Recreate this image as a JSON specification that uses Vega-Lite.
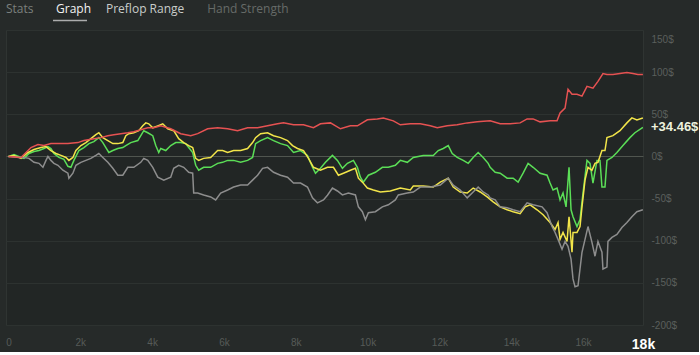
{
  "$schema": "https://vega.github.io/schema/vega-lite/v6.json",
  "background": "#262a29",
  "padding": {"left": 5, "top": 0, "right": 0, "bottom": 0},
  "spacing": 12,
  "bounds": "flush",
  "config": {"view": {"stroke": null}, "font": "Liberation Sans"},
  "resolve": {"scale": {"x": "independent", "y": "independent", "color": "independent"}},
  "vconcat": [
    {
      "width": 637,
      "height": 18,
      "data": {"values": [
        {"tab": "Stats"},
        {"tab": "Graph"},
        {"tab": "Preflop Range"},
        {"tab": "Hand Strength"}
      ]},
      "transform": [
        {"calculate": "length(datum.tab) * 6.4 + 18", "as": "w"},
        {"window": [{"op": "sum", "field": "w", "as": "cum"}], "frame": [null, 0]},
        {"calculate": "datum.cum - datum.w", "as": "pos"}
      ],
      "layer": [
        {
          "mark": {"type": "text", "align": "left", "baseline": "middle", "font": "Open Sans", "fontSize": 12},
          "encoding": {
            "x": {"field": "pos", "type": "quantitative", "scale": {"domain": [0, 637], "nice": false, "zero": true}, "axis": null},
            "text": {"field": "tab"},
            "color": {"field": "tab", "type": "nominal", "scale": {"domain": ["Stats", "Graph", "Preflop Range", "Hand Strength"], "range": ["#7b807d", "#f2f2f2", "#c9cdca", "#666b68"]}, "legend": null},
            "fontWeight": {"condition": {"test": "datum.tab === 'Graph'", "value": 600}, "value": 400}
          }
        },
        {
          "transform": [{"filter": "datum.tab === 'Graph'"}],
          "mark": {"type": "tick", "orient": "horizontal", "size": 34, "thickness": 1.5, "xOffset": 14, "yOffset": 11.5, "color": "#e6e6e6"},
          "encoding": {
            "x": {"field": "pos", "type": "quantitative"}
          }
        }
      ]
    },
    {
      "width": 637,
      "height": 295,
      "view": {"fill": "#222625", "stroke": "#2f3432"},
      "layer": [
        {
          "data": {"values": [
            {"s":"g","h":0,"v":0},{"s":"g","h":153,"v":2.3},{"s":"g","h":348,"v":-1.2},{"s":"g","h":431,"v":-2.3},{"s":"g","h":570,"v":3.5},{"s":"g","h":709,"v":5.9},{"s":"g","h":848,"v":7.0},{"s":"g","h":987,"v":9.4},{"s":"g","h":1098,"v":11.7},{"s":"g","h":1181,"v":9.4},{"s":"g","h":1265,"v":3.5},{"s":"g","h":1404,"v":-1.2},{"s":"g","h":1543,"v":-3.5},{"s":"g","h":1654,"v":-11.7},{"s":"g","h":1738,"v":-12.9},{"s":"g","h":1821,"v":-4.7},{"s":"g","h":1960,"v":7.0},{"s":"g","h":2099,"v":10.5},{"s":"g","h":2238,"v":15.2},{"s":"g","h":2377,"v":17.6},{"s":"g","h":2516,"v":22.3},{"s":"g","h":2627,"v":16.4},{"s":"g","h":2711,"v":10.5},{"s":"g","h":2794,"v":4.7},{"s":"g","h":2905,"v":7.0},{"s":"g","h":3044,"v":9.4},{"s":"g","h":3183,"v":10.5},{"s":"g","h":3267,"v":12.9},{"s":"g","h":3406,"v":16.4},{"s":"g","h":3600,"v":18.8},{"s":"g","h":3684,"v":24.6},{"s":"g","h":3767,"v":30.5},{"s":"g","h":3878,"v":28.1},{"s":"g","h":4017,"v":24.6},{"s":"g","h":4101,"v":12.9},{"s":"g","h":4184,"v":4.7},{"s":"g","h":4240,"v":9.4},{"s":"g","h":4379,"v":7.0},{"s":"g","h":4518,"v":12.9},{"s":"g","h":4657,"v":16.4},{"s":"g","h":4796,"v":16.4},{"s":"g","h":4935,"v":15.2},{"s":"g","h":5018,"v":10.5},{"s":"g","h":5129,"v":4.7},{"s":"g","h":5213,"v":-10.5},{"s":"g","h":5296,"v":-16.4},{"s":"g","h":5435,"v":-12.9},{"s":"g","h":5630,"v":-12.9},{"s":"g","h":5824,"v":-8.2},{"s":"g","h":5963,"v":-7.0},{"s":"g","h":6102,"v":-4.7},{"s":"g","h":6269,"v":-4.7},{"s":"g","h":6464,"v":-7.0},{"s":"g","h":6658,"v":-4.7},{"s":"g","h":6797,"v":-1.2},{"s":"g","h":6881,"v":15.2},{"s":"g","h":7020,"v":18.8},{"s":"g","h":7214,"v":22.3},{"s":"g","h":7381,"v":18.8},{"s":"g","h":7576,"v":15.2},{"s":"g","h":7770,"v":12.9},{"s":"g","h":7937,"v":4.7},{"s":"g","h":8132,"v":7.0},{"s":"g","h":8326,"v":1.2},{"s":"g","h":8465,"v":-12.9},{"s":"g","h":8549,"v":-19.9},{"s":"g","h":8688,"v":-14.1},{"s":"g","h":8827,"v":-7.0},{"s":"g","h":9021,"v":1.2},{"s":"g","h":9160,"v":-4.7},{"s":"g","h":9299,"v":-14.1},{"s":"g","h":9438,"v":-8.2},{"s":"g","h":9605,"v":-4.7},{"s":"g","h":9716,"v":-12.9},{"s":"g","h":9800,"v":-24.6},{"s":"g","h":9883,"v":-30.5},{"s":"g","h":10022,"v":-22.3},{"s":"g","h":10217,"v":-18.8},{"s":"g","h":10411,"v":-12.9},{"s":"g","h":10578,"v":-12.9},{"s":"g","h":10773,"v":-10.5},{"s":"g","h":10912,"v":-4.7},{"s":"g","h":11106,"v":-7.0},{"s":"g","h":11273,"v":-1.2},{"s":"g","h":11551,"v":1.2},{"s":"g","h":11829,"v":1.2},{"s":"g","h":11968,"v":7.0},{"s":"g","h":12107,"v":9.4},{"s":"g","h":12246,"v":12.9},{"s":"g","h":12357,"v":3.5},{"s":"g","h":12496,"v":-1.2},{"s":"g","h":12663,"v":-4.7},{"s":"g","h":12802,"v":-8.2},{"s":"g","h":12941,"v":-1.2},{"s":"g","h":13080,"v":4.7},{"s":"g","h":13219,"v":-1.2},{"s":"g","h":13358,"v":-8.2},{"s":"g","h":13414,"v":-12.9},{"s":"g","h":13553,"v":-18.8},{"s":"g","h":13692,"v":-19.9},{"s":"g","h":13886,"v":-25.8},{"s":"g","h":14053,"v":-25.8},{"s":"g","h":14192,"v":-30.5},{"s":"g","h":14331,"v":-19.9},{"s":"g","h":14470,"v":-8.2},{"s":"g","h":14609,"v":-12.9},{"s":"g","h":14804,"v":-19.9},{"s":"g","h":14998,"v":-22.3},{"s":"g","h":15082,"v":-31.6},{"s":"g","h":15165,"v":-39.8},{"s":"g","h":15276,"v":-37.5},{"s":"g","h":15360,"v":-51.6},{"s":"g","h":15443,"v":-43.4},{"s":"g","h":15527,"v":-59.8},{"s":"g","h":15610,"v":-12.9},{"s":"g","h":15666,"v":-63.3},{"s":"g","h":15721,"v":-71.5},{"s":"g","h":15832,"v":-83.2},{"s":"g","h":15916,"v":-75.0},{"s":"g","h":15999,"v":-43.4},{"s":"g","h":16110,"v":-4.7},{"s":"g","h":16194,"v":-8.2},{"s":"g","h":16277,"v":-31.6},{"s":"g","h":16388,"v":-4.7},{"s":"g","h":16472,"v":-4.7},{"s":"g","h":16527,"v":-36.3},{"s":"g","h":16611,"v":-36.3},{"s":"g","h":16666,"v":-4.7},{"s":"g","h":16805,"v":-1.2},{"s":"g","h":16944,"v":4.7},{"s":"g","h":17111,"v":12.9},{"s":"g","h":17306,"v":22.3},{"s":"g","h":17445,"v":28.1},{"s":"g","h":17667,"v":34.46},
            {"s":"y","h":0,"v":0},{"s":"y","h":153,"v":1.2},{"s":"y","h":348,"v":-2.3},{"s":"y","h":542,"v":4.7},{"s":"y","h":709,"v":8.2},{"s":"y","h":904,"v":10.5},{"s":"y","h":1043,"v":11.7},{"s":"y","h":1181,"v":7.0},{"s":"y","h":1321,"v":3.5},{"s":"y","h":1460,"v":1.2},{"s":"y","h":1599,"v":-1.2},{"s":"y","h":1682,"v":-4.7},{"s":"y","h":1793,"v":-1.2},{"s":"y","h":1877,"v":7.0},{"s":"y","h":2016,"v":12.9},{"s":"y","h":2155,"v":16.4},{"s":"y","h":2294,"v":21.1},{"s":"y","h":2433,"v":25.8},{"s":"y","h":2516,"v":28.1},{"s":"y","h":2627,"v":22.3},{"s":"y","h":2766,"v":18.8},{"s":"y","h":2905,"v":15.2},{"s":"y","h":3044,"v":15.2},{"s":"y","h":3183,"v":16.4},{"s":"y","h":3267,"v":24.6},{"s":"y","h":3350,"v":27.0},{"s":"y","h":3489,"v":28.1},{"s":"y","h":3628,"v":30.5},{"s":"y","h":3739,"v":36.3},{"s":"y","h":3823,"v":39.8},{"s":"y","h":3906,"v":38.7},{"s":"y","h":4017,"v":34.0},{"s":"y","h":4156,"v":36.3},{"s":"y","h":4295,"v":38.7},{"s":"y","h":4434,"v":32.8},{"s":"y","h":4601,"v":30.5},{"s":"y","h":4740,"v":21.1},{"s":"y","h":4879,"v":16.4},{"s":"y","h":5018,"v":12.9},{"s":"y","h":5129,"v":10.5},{"s":"y","h":5213,"v":-2.3},{"s":"y","h":5296,"v":-4.7},{"s":"y","h":5435,"v":-2.3},{"s":"y","h":5630,"v":-1.2},{"s":"y","h":5824,"v":7.0},{"s":"y","h":5963,"v":7.0},{"s":"y","h":6102,"v":4.7},{"s":"y","h":6269,"v":7.0},{"s":"y","h":6464,"v":7.0},{"s":"y","h":6658,"v":9.4},{"s":"y","h":6797,"v":16.4},{"s":"y","h":6881,"v":22.3},{"s":"y","h":7020,"v":27.0},{"s":"y","h":7214,"v":28.1},{"s":"y","h":7381,"v":24.6},{"s":"y","h":7576,"v":22.3},{"s":"y","h":7770,"v":18.8},{"s":"y","h":7909,"v":12.9},{"s":"y","h":8048,"v":9.4},{"s":"y","h":8215,"v":7.0},{"s":"y","h":8354,"v":-2.3},{"s":"y","h":8493,"v":-12.9},{"s":"y","h":8688,"v":-16.4},{"s":"y","h":8882,"v":-12.9},{"s":"y","h":9049,"v":-12.9},{"s":"y","h":9188,"v":-22.3},{"s":"y","h":9327,"v":-19.9},{"s":"y","h":9522,"v":-16.4},{"s":"y","h":9661,"v":-14.1},{"s":"y","h":9744,"v":-25.8},{"s":"y","h":9855,"v":-30.5},{"s":"y","h":9994,"v":-37.5},{"s":"y","h":10161,"v":-39.8},{"s":"y","h":10356,"v":-42.2},{"s":"y","h":10634,"v":-41.0},{"s":"y","h":10912,"v":-37.5},{"s":"y","h":11190,"v":-39.8},{"s":"y","h":11273,"v":-35.2},{"s":"y","h":11551,"v":-35.2},{"s":"y","h":11829,"v":-36.3},{"s":"y","h":12024,"v":-30.5},{"s":"y","h":12246,"v":-25.8},{"s":"y","h":12385,"v":-36.3},{"s":"y","h":12580,"v":-42.2},{"s":"y","h":12774,"v":-43.4},{"s":"y","h":12941,"v":-37.5},{"s":"y","h":13136,"v":-42.2},{"s":"y","h":13330,"v":-48.1},{"s":"y","h":13497,"v":-53.9},{"s":"y","h":13692,"v":-59.8},{"s":"y","h":13886,"v":-63.3},{"s":"y","h":14053,"v":-65.6},{"s":"y","h":14248,"v":-68.0},{"s":"y","h":14387,"v":-59.8},{"s":"y","h":14526,"v":-57.4},{"s":"y","h":14720,"v":-63.3},{"s":"y","h":14887,"v":-69.1},{"s":"y","h":15082,"v":-78.5},{"s":"y","h":15221,"v":-86.7},{"s":"y","h":15304,"v":-78.5},{"s":"y","h":15360,"v":-98.4},{"s":"y","h":15443,"v":-90.2},{"s":"y","h":15554,"v":-100.8},{"s":"y","h":15610,"v":-71.5},{"s":"y","h":15693,"v":-113.7},{"s":"y","h":15721,"v":-90.2},{"s":"y","h":15832,"v":-90.2},{"s":"y","h":15916,"v":-83.2},{"s":"y","h":15971,"v":-59.8},{"s":"y","h":16055,"v":-28.1},{"s":"y","h":16138,"v":-12.9},{"s":"y","h":16249,"v":-16.4},{"s":"y","h":16333,"v":-8.2},{"s":"y","h":16416,"v":-7.0},{"s":"y","h":16527,"v":7.0},{"s":"y","h":16611,"v":7.0},{"s":"y","h":16666,"v":22.3},{"s":"y","h":16833,"v":24.6},{"s":"y","h":17028,"v":30.5},{"s":"y","h":17222,"v":39.8},{"s":"y","h":17361,"v":45.7},{"s":"y","h":17500,"v":43.4},{"s":"y","h":17667,"v":45.7},
            {"s":"k","h":0,"v":0},{"s":"k","h":292,"v":-1.2},{"s":"k","h":431,"v":-1.2},{"s":"k","h":570,"v":-2.3},{"s":"k","h":709,"v":-7.0},{"s":"k","h":848,"v":-8.2},{"s":"k","h":959,"v":-12.9},{"s":"k","h":1043,"v":-4.7},{"s":"k","h":1098,"v":0},{"s":"k","h":1181,"v":-4.7},{"s":"k","h":1265,"v":-8.2},{"s":"k","h":1376,"v":-10.5},{"s":"k","h":1515,"v":-16.4},{"s":"k","h":1654,"v":-19.9},{"s":"k","h":1682,"v":-25.8},{"s":"k","h":1793,"v":-19.9},{"s":"k","h":1877,"v":-10.5},{"s":"k","h":2016,"v":-7.0},{"s":"k","h":2155,"v":-4.7},{"s":"k","h":2294,"v":-2.3},{"s":"k","h":2433,"v":1.2},{"s":"k","h":2516,"v":3.5},{"s":"k","h":2627,"v":-1.2},{"s":"k","h":2766,"v":-7.0},{"s":"k","h":2905,"v":-14.1},{"s":"k","h":3044,"v":-22.3},{"s":"k","h":3183,"v":-22.3},{"s":"k","h":3322,"v":-12.9},{"s":"k","h":3489,"v":-12.9},{"s":"k","h":3684,"v":-7.0},{"s":"k","h":3767,"v":-2.3},{"s":"k","h":3878,"v":-4.7},{"s":"k","h":4017,"v":-12.9},{"s":"k","h":4156,"v":-24.6},{"s":"k","h":4323,"v":-28.1},{"s":"k","h":4518,"v":-24.6},{"s":"k","h":4601,"v":-14.1},{"s":"k","h":4740,"v":-10.5},{"s":"k","h":4879,"v":-12.9},{"s":"k","h":5018,"v":-18.8},{"s":"k","h":5129,"v":-19.9},{"s":"k","h":5157,"v":-43.4},{"s":"k","h":5268,"v":-43.4},{"s":"k","h":5435,"v":-45.7},{"s":"k","h":5630,"v":-48.1},{"s":"k","h":5769,"v":-51.6},{"s":"k","h":5908,"v":-43.4},{"s":"k","h":6102,"v":-39.8},{"s":"k","h":6269,"v":-36.3},{"s":"k","h":6464,"v":-34.0},{"s":"k","h":6658,"v":-34.0},{"s":"k","h":6797,"v":-28.1},{"s":"k","h":6936,"v":-22.3},{"s":"k","h":7075,"v":-14.1},{"s":"k","h":7214,"v":-12.9},{"s":"k","h":7381,"v":-18.8},{"s":"k","h":7576,"v":-22.3},{"s":"k","h":7770,"v":-24.6},{"s":"k","h":7937,"v":-31.6},{"s":"k","h":8132,"v":-31.6},{"s":"k","h":8326,"v":-36.3},{"s":"k","h":8465,"v":-49.2},{"s":"k","h":8604,"v":-55.1},{"s":"k","h":8771,"v":-51.6},{"s":"k","h":8882,"v":-46.0},{"s":"k","h":9021,"v":-37.5},{"s":"k","h":9160,"v":-41.0},{"s":"k","h":9299,"v":-45.7},{"s":"k","h":9466,"v":-43.4},{"s":"k","h":9661,"v":-45.7},{"s":"k","h":9744,"v":-59.8},{"s":"k","h":9855,"v":-65.6},{"s":"k","h":9939,"v":-75.0},{"s":"k","h":10022,"v":-66.8},{"s":"k","h":10217,"v":-65.6},{"s":"k","h":10411,"v":-59.8},{"s":"k","h":10578,"v":-57.4},{"s":"k","h":10773,"v":-51.6},{"s":"k","h":10856,"v":-45.7},{"s":"k","h":11106,"v":-43.4},{"s":"k","h":11273,"v":-42.2},{"s":"k","h":11468,"v":-36.3},{"s":"k","h":11746,"v":-36.3},{"s":"k","h":12024,"v":-34.0},{"s":"k","h":12246,"v":-25.8},{"s":"k","h":12385,"v":-34.0},{"s":"k","h":12580,"v":-39.8},{"s":"k","h":12774,"v":-49.2},{"s":"k","h":12941,"v":-42.2},{"s":"k","h":13080,"v":-36.3},{"s":"k","h":13219,"v":-42.2},{"s":"k","h":13358,"v":-45.7},{"s":"k","h":13414,"v":-49.2},{"s":"k","h":13553,"v":-51.6},{"s":"k","h":13692,"v":-59.8},{"s":"k","h":13886,"v":-60.9},{"s":"k","h":14053,"v":-63.3},{"s":"k","h":14248,"v":-65.6},{"s":"k","h":14442,"v":-55.1},{"s":"k","h":14609,"v":-57.4},{"s":"k","h":14859,"v":-59.8},{"s":"k","h":14998,"v":-66.8},{"s":"k","h":15137,"v":-83.2},{"s":"k","h":15221,"v":-90.2},{"s":"k","h":15304,"v":-98.4},{"s":"k","h":15415,"v":-110.2},{"s":"k","h":15499,"v":-100.8},{"s":"k","h":15582,"v":-106.7},{"s":"k","h":15666,"v":-121.9},{"s":"k","h":15721,"v":-145.3},{"s":"k","h":15777,"v":-154.7},{"s":"k","h":15860,"v":-153.5},{"s":"k","h":15971,"v":-113.7},{"s":"k","h":16055,"v":-98.4},{"s":"k","h":16138,"v":-83.2},{"s":"k","h":16249,"v":-101.9},{"s":"k","h":16333,"v":-118.4},{"s":"k","h":16416,"v":-100.8},{"s":"k","h":16527,"v":-113.7},{"s":"k","h":16555,"v":-133.6},{"s":"k","h":16666,"v":-131.3},{"s":"k","h":16694,"v":-100.8},{"s":"k","h":16805,"v":-96.1},{"s":"k","h":16944,"v":-92.6},{"s":"k","h":17083,"v":-84.4},{"s":"k","h":17222,"v":-78.5},{"s":"k","h":17361,"v":-71.5},{"s":"k","h":17500,"v":-65.6},{"s":"k","h":17667,"v":-63.3},
            {"s":"r","h":0,"v":0},{"s":"r","h":348,"v":-1.2},{"s":"r","h":487,"v":4.7},{"s":"r","h":626,"v":10.5},{"s":"r","h":820,"v":14.1},{"s":"r","h":987,"v":12.9},{"s":"r","h":1181,"v":15.2},{"s":"r","h":1376,"v":15.2},{"s":"r","h":1654,"v":15.2},{"s":"r","h":1932,"v":16.4},{"s":"r","h":2099,"v":18.8},{"s":"r","h":2377,"v":21.1},{"s":"r","h":2572,"v":22.3},{"s":"r","h":2766,"v":24.6},{"s":"r","h":2933,"v":25.8},{"s":"r","h":3128,"v":27.0},{"s":"r","h":3322,"v":28.1},{"s":"r","h":3489,"v":29.3},{"s":"r","h":3684,"v":31.6},{"s":"r","h":3878,"v":34.0},{"s":"r","h":4045,"v":34.0},{"s":"r","h":4240,"v":36.3},{"s":"r","h":4518,"v":32.8},{"s":"r","h":4796,"v":27.0},{"s":"r","h":5074,"v":24.6},{"s":"r","h":5268,"v":27.0},{"s":"r","h":5546,"v":32.8},{"s":"r","h":5824,"v":34.0},{"s":"r","h":6102,"v":32.8},{"s":"r","h":6380,"v":30.5},{"s":"r","h":6658,"v":34.0},{"s":"r","h":6936,"v":34.0},{"s":"r","h":7214,"v":36.3},{"s":"r","h":7492,"v":38.7},{"s":"r","h":7659,"v":39.8},{"s":"r","h":7937,"v":37.5},{"s":"r","h":8215,"v":37.5},{"s":"r","h":8493,"v":34.0},{"s":"r","h":8688,"v":38.7},{"s":"r","h":8966,"v":39.8},{"s":"r","h":9244,"v":32.8},{"s":"r","h":9522,"v":36.3},{"s":"r","h":9716,"v":36.3},{"s":"r","h":9994,"v":43.4},{"s":"r","h":10272,"v":44.5},{"s":"r","h":10439,"v":45.7},{"s":"r","h":10717,"v":42.2},{"s":"r","h":10912,"v":37.5},{"s":"r","h":11190,"v":38.7},{"s":"r","h":11468,"v":38.7},{"s":"r","h":11746,"v":36.3},{"s":"r","h":11940,"v":34.0},{"s":"r","h":12218,"v":36.3},{"s":"r","h":12496,"v":37.5},{"s":"r","h":12774,"v":39.8},{"s":"r","h":13052,"v":41.0},{"s":"r","h":13414,"v":42.2},{"s":"r","h":13692,"v":38.7},{"s":"r","h":13970,"v":38.7},{"s":"r","h":14248,"v":39.8},{"s":"r","h":14442,"v":44.5},{"s":"r","h":14609,"v":44.5},{"s":"r","h":14804,"v":41.0},{"s":"r","h":15082,"v":42.2},{"s":"r","h":15276,"v":42.2},{"s":"r","h":15360,"v":51.6},{"s":"r","h":15499,"v":57.4},{"s":"r","h":15582,"v":79.7},{"s":"r","h":15693,"v":73.8},{"s":"r","h":15832,"v":73.8},{"s":"r","h":15971,"v":71.5},{"s":"r","h":16110,"v":83.2},{"s":"r","h":16277,"v":80.9},{"s":"r","h":16416,"v":89.1},{"s":"r","h":16555,"v":98.4},{"s":"r","h":16666,"v":97.3},{"s":"r","h":16833,"v":97.3},{"s":"r","h":17028,"v":98.4},{"s":"r","h":17222,"v":99.6},{"s":"r","h":17389,"v":98.4},{"s":"r","h":17528,"v":97.3},{"s":"r","h":17667,"v":97.3}
          ]},
          "mark": {"type": "line", "strokeWidth": 1.5, "clip": true},
          "encoding": {
            "x": {
              "field": "h", "type": "quantitative",
              "scale": {"domain": [-70, 17670], "nice": false, "zero": false},
              "axis": {
                "title": null,
                "values": [0, 2000, 4000, 6000, 8000, 10000, 12000, 14000, 16000, 17670],
                "labelExpr": "datum.value > 17000 ? '18k' : (datum.value == 0 ? '0' : (datum.value / 1000) + 'k')",
                "grid": false, "ticks": false, "tickSize": 0, "domain": false,
                "labelPadding": 12, "labelFlush": false, "labelOverlap": false, "labelBound": false,
                "labelFont": "Liberation Sans",
                "labelFontSize": {"condition": {"test": "datum.value > 17000", "value": 14}, "value": 10},
                "labelColor": {"condition": {"test": "datum.value > 17000", "value": "#ffffff"}, "value": "#565b58"},
                "labelFontWeight": {"condition": {"test": "datum.value > 17000", "value": "bold"}, "value": "normal"}
              }
            },
            "y": {
              "field": "v", "type": "quantitative",
              "scale": {"domain": [-200, 150], "nice": false, "zero": false},
              "axis": {
                "orient": "right", "title": null,
                "values": [-200, -150, -100, -50, 0, 50, 100, 150],
                "labelExpr": "datum.value + '$'",
                "ticks": false, "tickSize": 0, "domain": false,
                "labelPadding": 8, "labelAlign": "left", "labelFlush": false, "labelOverlap": false,
                "labelFont": "Liberation Sans", "labelFontSize": 10, "labelColor": "#5a5f5c",
                "labelOffset": {"condition": {"test": "datum.value == 150", "value": 9}, "value": 0},
                "grid": true,
                "gridColor": {"condition": {"test": "datum.value == 0", "value": "#50554f"}, "value": "#2d3230"},
                "gridWidth": 1
              }
            },
            "color": {
              "field": "s", "type": "nominal",
              "scale": {"domain": ["g", "y", "k", "r"], "range": ["#5bde57", "#f2e54a", "#8d8d8d", "#e65252"]},
              "legend": null
            }
          }
        },
        {
          "data": {"values": [{"h": 17670, "v": 34.46, "t": "+34.46$"}]},
          "mark": {"type": "text", "align": "left", "baseline": "middle", "dx": 8, "fontSize": 13, "fontWeight": "bold", "font": "Liberation Sans", "color": "#eef2de"},
          "encoding": {
            "x": {"field": "h", "type": "quantitative"},
            "y": {"field": "v", "type": "quantitative"},
            "text": {"field": "t"}
          }
        }
      ]
    }
  ]
}
